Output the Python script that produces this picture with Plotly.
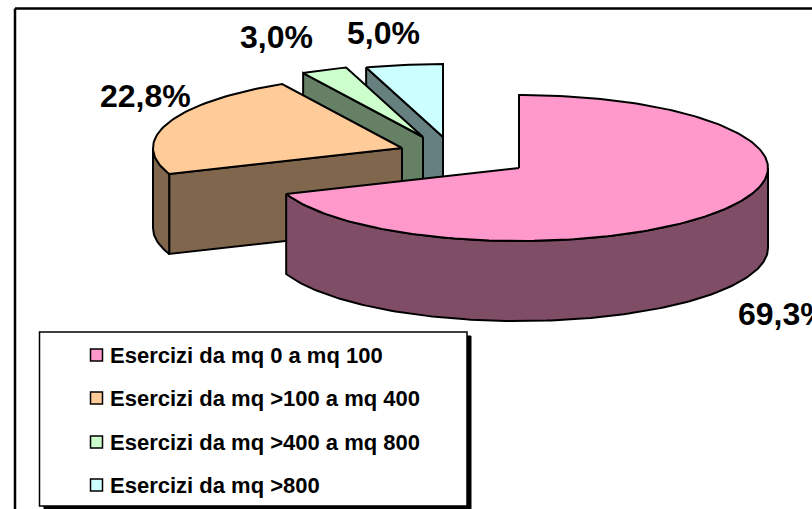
import numpy as np
import plotly.graph_objects as go

# Shop-size shares shown in the exploded pie
categories = [
    "Esercizi da mq 0 a mq 100",
    "Esercizi da mq >100 a mq 400",
    "Esercizi da mq >400 a mq 800",
    "Esercizi da mq >800",
]
shares = [69.3, 22.8, 3.0, 5.0]
share_labels = ["69,3%", "22,8%", "3,0%", "5,0%"]
top_colors = ["#FF99CC", "#FFCC99", "#CCFFCC", "#CCFFFF"]
wall_colors = ["#804D66", "#80664D", "#668066", "#668080"]

# Projection of the tilted disc, in screen pixels
RX, RY, DEPTH = 249, 73, 80
apexes = [(519, 168), (402, 148), (423, 137), (443, 137)]
label_spots = [(736, 314), (145, 96), (276, 37), (383, 33)]
key_rows = [355, 398, 442, 485]
KEY_X, KEY_TEXT_X = 96.5, 110
OUTLINE = dict(color="black", width=2)


def rim(cx, cy, a0, a1):
    """Points on the disc edge, angles in radians clockwise from 12 o'clock."""
    n = max(2, int(abs(a1 - a0) / 0.02))
    t = np.linspace(a0, a1, n)
    return cx + RX * np.sin(t), cy - RY * np.cos(t)


def polygon(x, y, color):
    return go.Scatter(
        x=x, y=y, mode="lines", fill="toself", fillcolor=color,
        line=OUTLINE, showlegend=False, hoverinfo="skip",
    )


fig = go.Figure()

# Slices accumulate clockwise from 12 o'clock; painted back to front
edges = 2 * np.pi * np.cumsum([0] + shares) / sum(shares)
for i in [3, 2, 1, 0]:
    cx, cy = apexes[i]
    a0, a1 = edges[i], edges[i + 1]

    # Cut face along the starting radius
    sx, sy = rim(cx, cy, a0, a0)
    fig.add_trace(polygon(
        [cx, sx[0], sx[0], cx, cx],
        [cy, sy[0], sy[0] + DEPTH, cy + DEPTH, cy],
        wall_colors[i],
    ))

    # Outer wall, only where the rim faces the viewer
    lo, hi = max(a0, np.pi / 2), min(a1, 3 * np.pi / 2)
    if hi > lo:
        wx, wy = rim(cx, cy, lo, hi)
        fig.add_trace(polygon(
            np.r_[wx, wx[::-1], wx[0]],
            np.r_[wy, wy[::-1] + DEPTH, wy[0]],
            wall_colors[i],
        ))

    # Top face
    tx, ty = rim(cx, cy, a0, a1)
    fig.add_trace(polygon(np.r_[cx, tx, cx], np.r_[cy, ty, cy], top_colors[i]))

# Legend swatches and their captions
fig.add_trace(go.Scatter(
    x=[KEY_X] * len(categories), y=key_rows, mode="markers",
    showlegend=False, hoverinfo="skip",
    marker=dict(symbol="square", size=12, color=top_colors,
                line=dict(color="black", width=1.5)),
))
for name, row in zip(categories, key_rows):
    fig.add_annotation(
        x=KEY_TEXT_X, y=row, text=f"<b>{name}</b>", showarrow=False,
        xanchor="left", yanchor="middle", xshift=-2,
        font=dict(family="Liberation Sans", size=22, color="black"),
    )

# Percentage labels
for text, (x, y), share in zip(share_labels, label_spots, shares):
    fig.add_annotation(
        x=x, y=y, text=f"<b>{text}</b>", showarrow=False,
        xanchor="left" if share == max(shares) else "center", yanchor="middle",
        font=dict(family="Liberation Sans", size=32, color="black"),
    )

fig.update_layout(
    width=812, height=509,
    margin=dict(l=0, r=0, t=0, b=0),
    paper_bgcolor="white", plot_bgcolor="rgba(0,0,0,0)",
    xaxis=dict(range=[0, 812], visible=False, fixedrange=True),
    yaxis=dict(range=[509, 0], visible=False, fixedrange=True),
    showlegend=False,
    shapes=[
        # Chart frame
        dict(type="line", xref="x", yref="y", x0=15, y0=8.5, x1=812, y1=8.5,
             line=dict(color="black", width=2.5), layer="below"),
        dict(type="line", xref="x", yref="y", x0=15, y0=8.5, x1=15, y1=509,
             line=dict(color="black", width=2.5), layer="below"),
        # Legend shadow and box
        dict(type="rect", xref="x", yref="y", x0=44, y0=336, x1=471, y1=510,
             fillcolor="black", line=dict(color="black", width=1), layer="below"),
        dict(type="rect", xref="x", yref="y", x0=39.5, y0=332, x1=467, y1=506,
             fillcolor="white", line=dict(color="black", width=1.5), layer="below"),
    ],
)

fig.write_html("out.html")
